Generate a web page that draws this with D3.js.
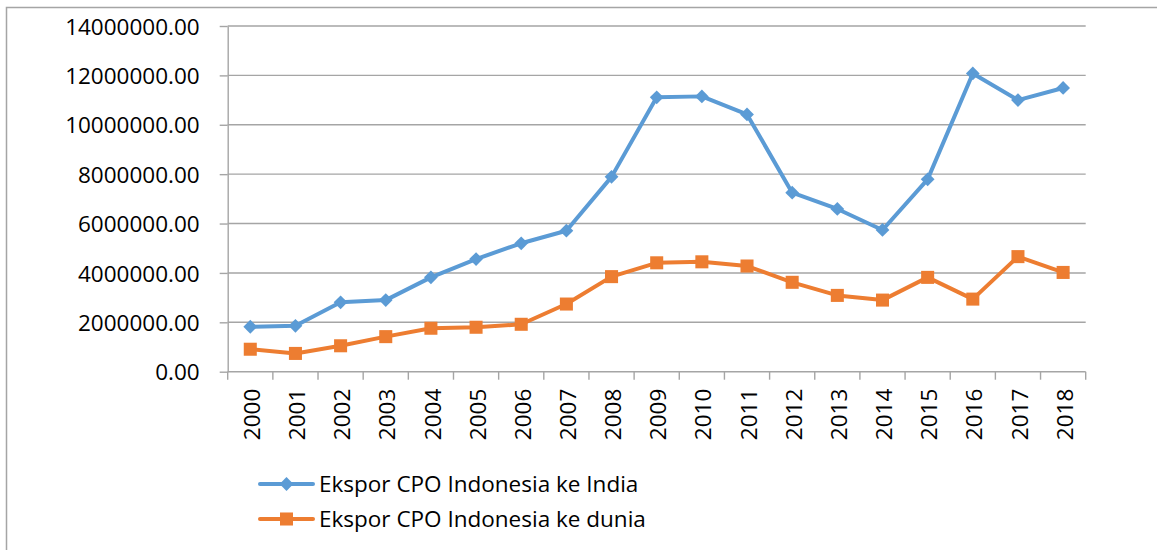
<!DOCTYPE html>
<html>
<head>
<meta charset="utf-8">
<script src="https://cdn.jsdelivr.net/npm/d3@7"></script>
<style>
  body { margin: 0; background: #fff; }
  text { font-family: "Open Sans", sans-serif; fill: #000; }
</style>
</head>
<body>
<div id="chart"></div>
<script>
// data
const years = ['2000', '2001', '2002', '2003', '2004', '2005', '2006', '2007', '2008', '2009',
  '2010', '2011', '2012', '2013', '2014', '2015', '2016', '2017', '2018'];
const india = [1820000, 1860000, 2810000, 2900000, 3820000, 4560000, 5200000, 5710000, 7890000, 11110000,
  11150000, 10420000, 7250000, 6590000, 5740000, 7790000, 12080000, 11000000, 11490000];
const dunia = [910000, 740000, 1050000, 1420000, 1760000, 1800000, 1920000, 2740000, 3850000, 4410000,
  4450000, 4280000, 3620000, 3090000, 2900000, 3820000, 2940000, 4660000, 4020000];
const yTicks = [0, 2000000, 4000000, 6000000, 8000000, 10000000, 12000000, 14000000];
const seriesNames = ['Ekspor CPO Indonesia ke India', 'Ekspor CPO Indonesia ke dunia'];

const W = 1157, H = 550;
const margin = {top: 26, right: 71.3, bottom: 178.3, left: 227.7};
const width = W - margin.left - margin.right;
const height = H - margin.top - margin.bottom;
const gray = '#a5a5a5';
const blue = '#5b9bd5', orange = '#ed7d31';

const svg = d3.select('#chart')
  .append('svg')
  .attr('width', W)
  .attr('height', H);

// outer chart border (cut off on right / bottom)
svg.append('path')
  .attr('d', 'M6.5,' + (H + 2) + 'V7.5H' + (W + 2))
  .attr('fill', 'none')
  .attr('stroke', gray)
  .attr('stroke-width', 1.5);

const g = svg.append('g')
  .attr('transform', 'translate(' + margin.left + ',' + margin.top + ')');

const x = d3.scaleBand()
  .domain(years)
  .range([0, width])
  .padding(0);

const y = d3.scaleLinear()
  .domain([0, 14000000])
  .range([height, 0]);

// gridlines
g.append('g')
  .selectAll('line')
  .data(yTicks.filter(d => d > 0))
  .enter()
  .append('line')
  .attr('x1', 0)
  .attr('x2', width)
  .attr('y1', d => y(d))
  .attr('y2', d => y(d))
  .attr('stroke', gray)
  .attr('stroke-width', 1.4);

// y axis
const yAxis = g.append('g')
  .call(d3.axisLeft(y)
    .tickValues(yTicks)
    .tickFormat(d => d.toFixed(2))
    .tickSizeInner(8)
    .tickSizeOuter(0)
    .tickPadding(20));
yAxis.select('.domain').attr('stroke', gray).attr('stroke-width', 1.4);
yAxis.selectAll('.tick line').attr('stroke', gray).attr('stroke-width', 1.4);
yAxis.selectAll('.tick text')
  .style('font-family', '"Open Sans", sans-serif')
  .style('font-size', '22.5px')
  .attr('dy', '0.36em')
  .attr('fill', '#000');

// x axis
const xAxis = g.append('g')
  .attr('transform', 'translate(0,' + height + ')');
xAxis.append('line')
  .attr('x1', 0)
  .attr('x2', width)
  .attr('stroke', gray)
  .attr('stroke-width', 1.4);
xAxis.selectAll('line.tk')
  .data(years.map(d => x(d)).concat([x(years[years.length - 1]) + x.bandwidth()]))
  .enter()
  .append('line')
  .attr('class', 'tk')
  .attr('x1', d => d)
  .attr('x2', d => d)
  .attr('y1', 0)
  .attr('y2', 8)
  .attr('stroke', gray)
  .attr('stroke-width', 1.4);
xAxis.selectAll('text')
  .data(years)
  .enter()
  .append('text')
  .attr('transform', d => 'translate(' + (x(d) + x.bandwidth() / 2 + 1.5) + ',17) rotate(-90)')
  .attr('text-anchor', 'end')
  .attr('dy', '0.36em')
  .style('font-size', '22.5px')
  .text(d => d);

const cx = d => x(d) + x.bandwidth() / 2;

// diamond = square turned 45 degrees
const series = [
  {name: seriesNames[0], values: india, color: blue, size: 95, rot: 45},
  {name: seriesNames[1], values: dunia, color: orange, size: 170, rot: 0}
];

const line = d3.line()
  .x((d, i) => cx(years[i]))
  .y(d => y(d));

series.forEach(s => {
  g.append('path')
    .datum(s.values)
    .attr('d', line)
    .attr('fill', 'none')
    .attr('stroke', s.color)
    .attr('stroke-width', 4)
    .attr('stroke-linejoin', 'round');
  g.append('g')
    .selectAll('path')
    .data(s.values)
    .enter()
    .append('path')
    .attr('transform', (d, i) => 'translate(' + cx(years[i]) + ',' + y(d) + ') rotate(' + s.rot + ')')
    .attr('d', d3.symbol().type(d3.symbolSquare).size(s.size))
    .attr('fill', s.color);
});

// legend
const legend = svg.append('g')
  .attr('transform', 'translate(260,484)');
series.forEach((s, i) => {
  const row = legend.append('g').attr('transform', 'translate(0,' + (i * 35) + ')');
  row.append('line')
    .attr('x1', 0).attr('x2', 53)
    .attr('stroke', s.color)
    .attr('stroke-width', 4)
    .attr('stroke-linecap', 'round');
  row.append('path')
    .attr('transform', 'translate(26.5,0) rotate(' + s.rot + ')')
    .attr('d', d3.symbol().type(d3.symbolSquare).size(s.size))
    .attr('fill', s.color);
  row.append('text')
    .attr('x', 59)
    .attr('dy', '0.36em')
    .style('font-size', '22.5px')
    .text(s.name);
});
</script>
</body>
</html>
